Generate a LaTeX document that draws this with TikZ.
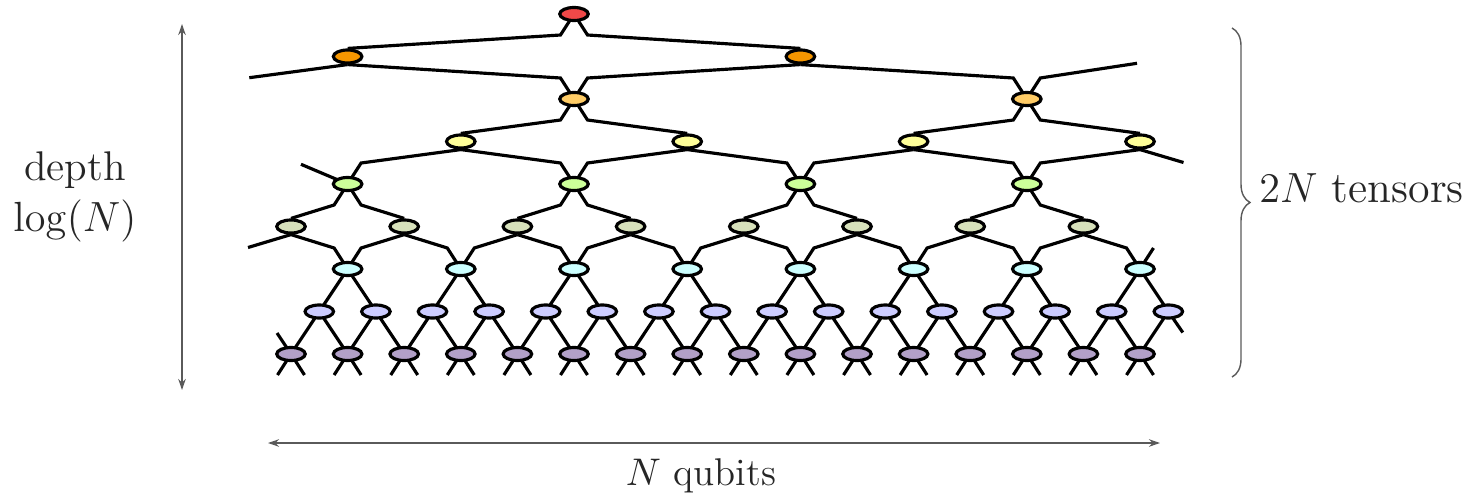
\documentclass[tikz,border=0pt]{standalone}
\usetikzlibrary{arrows.meta,decorations.pathreplacing,calc,backgrounds,shapes.geometric}
\definecolor{cRed}{RGB}{239,72,72}
\definecolor{cOrange}{RGB}{245,150,0}
\definecolor{cPeach}{RGB}{255,204,102}
\definecolor{cYellow}{RGB}{255,255,153}
\definecolor{cLime}{RGB}{204,255,153}
\definecolor{cOlive}{RGB}{215,225,187}
\definecolor{cCyan}{RGB}{204,255,255}
\definecolor{cLav}{RGB}{204,204,255}
\definecolor{cPurple}{RGB}{178,160,200}
\definecolor{cAnnot}{RGB}{90,90,90}
\begin{document}
\begin{tikzpicture}[x=0.01cm,y=-0.01cm,
  tensor/.style={ellipse, draw=black, line width=0.9pt, minimum width=0.285cm,
                 minimum height=0.13cm, inner sep=0pt},
  wire/.style={line width=0.9pt, black},
  annot/.style={line width=0.45pt, cAnnot, >={Stealth[length=1.1mm, width=0.75mm, inset=0.35mm]}},
  lbl/.style={text=black!85}]
\useasboundingbox (0,0) rectangle (1482,497);

% ---- tensors, layer by layer (x = 291 + 28.3 p) ----
\node[tensor, fill=cRed] (a0-10) at ({291+28.3*10},14) {};
\foreach \p in {2,18}   \node[tensor, fill=cOrange] (a1-\p) at ({291+28.3*\p},56.5) {};
\foreach \p in {10,26}  \node[tensor, fill=cPeach]  (a2-\p) at ({291+28.3*\p},99) {};
\foreach \p in {6,14,22,30} \node[tensor, fill=cYellow] (a3-\p) at ({291+28.3*\p},141.5) {};
\foreach \p in {2,10,18,26} \node[tensor, fill=cLime]   (a4-\p) at ({291+28.3*\p},184) {};
\foreach \p in {0,4,...,28} \node[tensor, fill=cOlive]  (a5-\p) at ({291+28.3*\p},226.5) {};
\foreach \p in {2,6,...,30} \node[tensor, fill=cCyan]   (a6-\p) at ({291+28.3*\p},269) {};
\foreach \p in {1,3,...,31} \node[tensor, fill=cLav]    (a7-\p) at ({291+28.3*\p},311.5) {};
\foreach \p in {0,2,...,30} \node[tensor, fill=cPurple] (a8-\p) at ({291+28.3*\p},354) {};

% ---- leg bends of the four-legged tensors ----
\foreach \r/\ps in {0/{10},2/{10,26},4/{2,10,18,26},6/{2,6,10,14,18,22,26,30},
                    8/{0,2,4,6,8,10,12,14,16,18,20,22,24,26,28,30}} {
  \foreach \p in \ps {
    \coordinate (a\r-\p-ul) at ($(a\r-\p)+(-13.5,-21)$);
    \coordinate (a\r-\p-ur) at ($(a\r-\p)+(13.5,-21)$);
    \coordinate (a\r-\p-dl) at ($(a\r-\p)+(-13.5,21)$);
    \coordinate (a\r-\p-dr) at ($(a\r-\p)+(13.5,21)$);
  }
}

% free ends of the periodic wires
\coordinate (w1) at (249.3,77.7);
\coordinate (e1) at (1137,63.3);
\coordinate (w4) at (301,164.3);
\coordinate (e3) at (1183.5,162.5);
\coordinate (w5) at ($(a5-0)+(-43,21)$);
\coordinate (w8) at ($(a8-0)+(-14,-21)$);
\coordinate (e7) at ($(a7-31)+(14.5,21)$);

% ---- wires ----
\begin{scope}[on background layer]
  % top tensor
  \draw[wire] (a1-2.north) -- (a0-10-dl) -- (a0-10.center) -- (a0-10-dr) -- (a1-18.north);
  % layer 1 -> 2
  \draw[wire] (w1) -- (a1-2.south);
  \draw[wire] (a1-2.south) -- (a2-10-ul) -- (a2-10.center) -- (a2-10-ur) -- (a1-18.south);
  \draw[wire] (a1-18.south) -- (a2-26-ul) -- (a2-26.center) -- (a2-26-ur) -- (e1);
  % layer 2 -> 3
  \foreach \p in {10,26} {
    \pgfmathtruncatemacro\l{\p-4}\pgfmathtruncatemacro\rr{\p+4}
    \draw[wire] (a3-\l.north) -- (a2-\p-dl) -- (a2-\p.center) -- (a2-\p-dr) -- (a3-\rr.north);
  }
  % layer 3 -> 4
  \draw[wire] (w4) -- (a4-2.center) -- (a4-2-ur) -- (a3-6.south);
  \foreach \p in {10,18,26} {
    \pgfmathtruncatemacro\l{\p-4}\pgfmathtruncatemacro\rr{\p+4}
    \draw[wire] (a3-\l.south) -- (a4-\p-ul) -- (a4-\p.center) -- (a4-\p-ur) -- (a3-\rr.south);
  }
  \draw[wire] (a3-30.south) -- (e3);
  % layer 4 -> 5
  \foreach \p in {2,10,18,26} {
    \pgfmathtruncatemacro\l{\p-2}\pgfmathtruncatemacro\rr{\p+2}
    \draw[wire] (a5-\l.north) -- (a4-\p-dl) -- (a4-\p.center) -- (a4-\p-dr) -- (a5-\rr.north);
  }
  % layer 5 -> 6
  \draw[wire] (w5) -- (a5-0.south);
  \foreach \p in {2,6,...,26} {
    \pgfmathtruncatemacro\l{\p-2}\pgfmathtruncatemacro\rr{\p+2}
    \draw[wire] (a5-\l.south) -- (a6-\p-ul) -- (a6-\p.center) -- (a6-\p-ur) -- (a5-\rr.south);
  }
  \draw[wire] (a5-28.south) -- (a6-30-ul) -- (a6-30.center) -- (a6-30-ur);
  % layer 6 -> 7
  \foreach \p in {2,6,...,30} {
    \pgfmathtruncatemacro\l{\p-1}\pgfmathtruncatemacro\rr{\p+1}
    \draw[wire] (a7-\l.center) -- (a6-\p.center) -- (a7-\rr.center);
  }
  % layer 7 -> 8
  \foreach \p in {1,3,...,29} {
    \pgfmathtruncatemacro\l{\p-1}\pgfmathtruncatemacro\rr{\p+1}
    \draw[wire] (a8-\l.center) -- (a7-\p.center) -- (a8-\rr.center);
  }
  \draw[wire] (a8-30.center) -- (a7-31.center) -- (e7);
  \draw[wire] (w8) -- (a8-0.center);
  % physical legs
  \foreach \p in {0,2,...,30}
    \draw[wire] (a8-\p-dl) -- (a8-\p.center) -- (a8-\p-dr);
\end{scope}

% ---- annotations ----
\coordinate (vt) at (182,24);
\coordinate (vb) at (182,390);
\draw[annot, <->] (vt) -- (vb);
\node[lbl, align=center, font=\fontsize{11.8}{14.4}\selectfont] (depth) at (75,197) {depth\\$\log(N)$};

\coordinate (hl) at (268,443);
\coordinate (hr) at (1160,443);
\draw[annot, <->] (hl) -- (hr);
\node[lbl, anchor=base, font=\fontsize{11}{13}\selectfont] (qubits) at (701,485.5) {$N$ qubits};

\coordinate (bt) at (1232,28);
\coordinate (bb) at (1232,377);
\draw[annot, line width=0.4pt, decorate, decoration={brace, amplitude=0.18cm}] (bt) -- (bb);
\node[lbl, anchor=base west, font=\fontsize{12.5}{15}\selectfont] (tensors) at (1247,202) {$2N$ tensors};
\end{tikzpicture}
\end{document}
